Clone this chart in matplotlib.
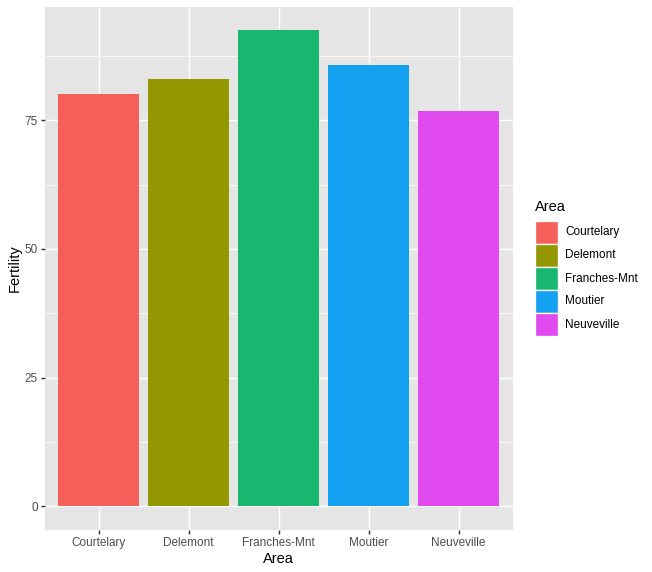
import matplotlib
matplotlib.use("Agg")
import matplotlib.pyplot as plt
from matplotlib.patches import Rectangle

areas = ["Courtelary", "Delemont", "Franches-Mnt", "Moutier", "Neuveville"]
fertility = [80.2, 83.1, 92.5, 85.8, 76.9]
colors = ["#F55F5A", "#949700", "#19B66F", "#14A0F0", "#E04AEE"]
yticks = [0, 25, 50, 75]

plt.rcParams['font.family'] = ['Liberation Sans', 'DejaVu Sans']
W, H = 652, 572
DPI = 96
fig = plt.figure(figsize=(W / DPI, H / DPI), dpi=DPI)
L, R, T, B = 44.5, 512.5, 6.5, 530
ax = fig.add_axes([L / W, 1 - B / H, (R - L) / W, (B - T) / H])
ax.set_facecolor("#E5E5E5")
for s in ax.spines.values():
    s.set_visible(False)

x = list(range(len(areas)))
ax.bar(x, fertility, width=0.9, color=colors, zorder=3)

ymax = max(fertility)
ax.set_ylim(-0.05 * ymax, ymax * 1.05)
ax.set_xlim(-0.6, len(areas) - 0.4)
ax.set_yticks(yticks)
ax.set_yticks([12.5, 37.5, 62.5, 87.5], minor=True)
ax.set_xticks(x)
ax.set_xticklabels(areas)
ax.grid(which="major", color="white", linewidth=1.07, zorder=0)
ax.grid(which="minor", axis="y", color="white", linewidth=0.53, zorder=0)
ax.tick_params(which="major", length=2.75, width=1.07, color="#333333",
               labelsize=8.8, labelcolor="#4D4D4D", pad=2.2)
ax.tick_params(which="minor", length=0)
ax.set_axisbelow(True)
ax.set_xlabel("Area", fontsize=11, labelpad=2.5)
ax.set_ylabel("Fertility", fontsize=11, labelpad=2.5)

# legend
fig.text(535 / W, 1 - 207 / H, "Area", fontsize=11, ha="left", va="center")
ky0 = 221
kh = 23.0
for i, (a, c) in enumerate(zip(areas, colors)):
    y0 = ky0 + i * kh
    fig.patches.append(Rectangle((535 / W, 1 - (y0 + kh) / H), 23 / W, kh / H,
                                 transform=fig.transFigure, facecolor=c,
                                 edgecolor="white", linewidth=1.0))
    fig.text(565 / W, 1 - (y0 + kh / 2) / H, a, fontsize=8.8, ha="left", va="center")

fig.savefig("out.png", dpi=DPI)
